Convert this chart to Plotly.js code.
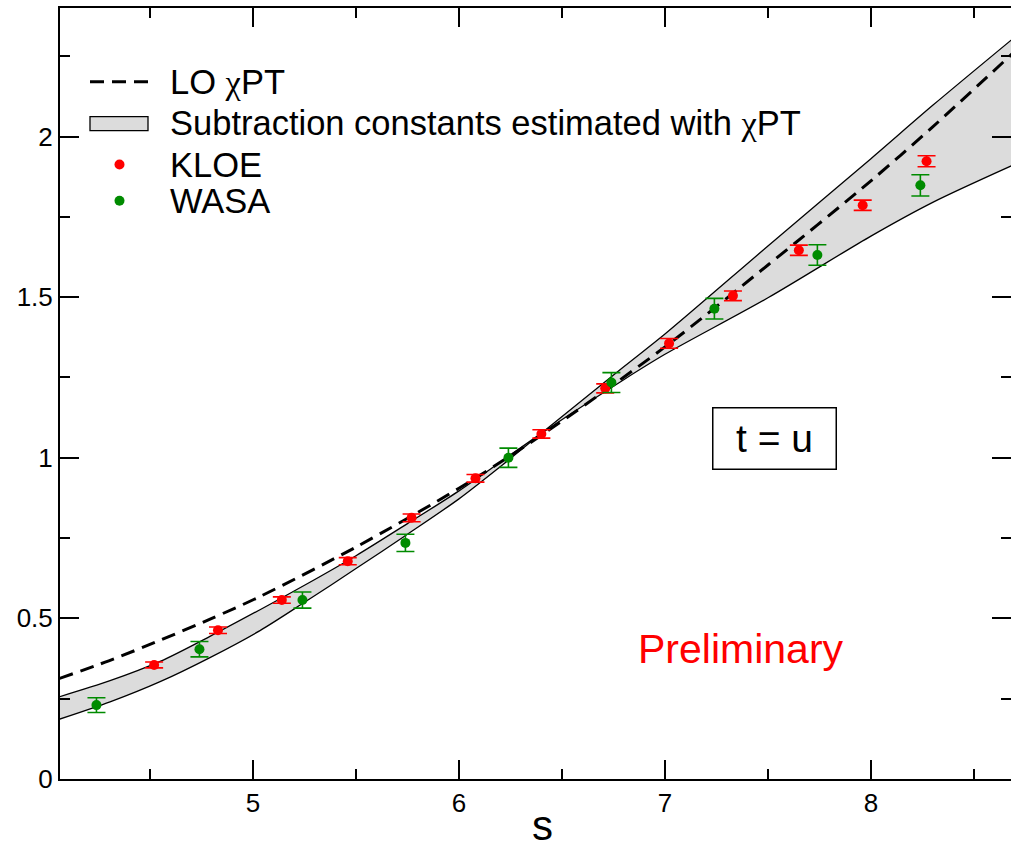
<!DOCTYPE html>
<html>
<head>
<meta charset="utf-8">
<script src="https://cdn.plot.ly/plotly-3.0.1.min.js"></script>
<style>
  html, body { margin: 0; padding: 0; background: #ffffff; }
  #chart { width: 1011px; height: 849px; }
</style>
</head>
<body>
<div id="chart"></div>
<script>
// ---- data ----
// the two edges of the band cross near s = 6.4
const bandS  = [4.06, 4.306, 4.549, 4.791, 5.034, 5.25, 5.5, 5.75, 6.0, 6.2, 6.4, 6.8, 7.0, 7.5, 8.0, 8.3, 8.69];
const bandA  = [0.186, 0.240, 0.303, 0.378, 0.462, 0.550, 0.655, 0.762, 0.872, 0.972, 1.076, 1.283, 1.385, 1.659, 1.931, 2.097, 2.305];
const bandB  = [0.256, 0.306, 0.366, 0.444, 0.527, 0.603, 0.695, 0.795, 0.897, 0.986, 1.076, 1.243, 1.322, 1.498, 1.690, 1.795, 1.911];

const loS = [4.06, 4.3, 4.55, 4.8, 5.034, 5.5, 6.0, 6.4, 7.0, 7.5, 8.0, 8.3, 8.69];
const loY = [0.313, 0.368, 0.432, 0.500, 0.568, 0.722, 0.905, 1.070, 1.345, 1.600, 1.862, 2.030, 2.260];

const kloeS   = [4.52, 4.83, 5.14, 5.46, 5.77, 6.08, 6.40, 6.71, 7.02, 7.33, 7.65, 7.96, 8.27];
const kloeY   = [0.355, 0.463, 0.557, 0.678, 0.813, 0.936, 1.074, 1.216, 1.356, 1.504, 1.646, 1.786, 1.923];
const kloeErr = [0.009, 0.010, 0.010, 0.011, 0.012, 0.012, 0.013, 0.014, 0.015, 0.015, 0.016, 0.016, 0.017];

const wasaS   = [4.24, 4.74, 5.24, 5.74, 6.24, 6.74, 7.24, 7.74, 8.24];
const wasaY   = [0.230, 0.404, 0.557, 0.735, 1.000, 1.234, 1.464, 1.631, 1.848];
const wasaErr = [0.023, 0.024, 0.025, 0.027, 0.030, 0.031, 0.032, 0.032, 0.033];

const legendLabels = ["LO <span style=\"font-family:'Liberation Serif'\">χ</span>PT",
                      "Subtraction constants estimated with <span style=\"font-family:'Liberation Serif'\">χ</span>PT",
                      "KLOE", "WASA"];
const xTitle = "s";
const boxLabel = "t = u";
const stamp = "Preliminary";

// ---- styles ----
const FONT = "Liberation Sans, Arial, sans-serif";
const RED = "#ff0000";
const GREEN = "#008b00";
const GREY = "#dcdcdc";

const traces = [
  { x: bandS, y: bandA, mode: "lines", line: {color: "#000", width: 1.3, shape: "spline", smoothing: 0.8},
    showlegend: false, hoverinfo: "skip" },
  { x: bandS, y: bandB, mode: "lines", fill: "tonexty", fillcolor: GREY,
    line: {color: "#000", width: 1.3, shape: "spline", smoothing: 0.8}, showlegend: false, hoverinfo: "skip" },
  { x: loS, y: loY, mode: "lines", line: {color: "#000", width: 3, dash: "14px,8px", shape: "spline", smoothing: 0.8},
    showlegend: false },
  { x: kloeS, y: kloeY, mode: "markers", marker: {color: RED, size: 10},
    error_y: {type: "data", array: kloeErr, visible: true, color: RED, thickness: 1.6, width: 9},
    showlegend: false },
  { x: wasaS, y: wasaY, mode: "markers", marker: {color: GREEN, size: 10},
    error_y: {type: "data", array: wasaErr, visible: true, color: GREEN, thickness: 1.6, width: 9},
    showlegend: false }
];

// pixel helpers for paper coords (plot area 60..1011 x 8..779)
const PL = 60, PR = 1011, PT = 8, PB = 779;
const px = v => (v - PL) / (PR - PL);
const py = v => (PB - v) / (PB - PT);

const legendRows = [81.5, 123, 165, 201];
const textX = px(168);

const annotations = legendLabels.map((t, i) => ({
  xref: "paper", yref: "paper", x: textX, y: py(legendRows[i]), xanchor: "left", yanchor: "middle",
  text: t, showarrow: false, font: {family: FONT, size: 34.5, color: "#000"}
}));
annotations.push({
  xref: "paper", yref: "paper", x: px(774.7), y: py(438), xanchor: "center", yanchor: "middle",
  text: boxLabel, showarrow: false, font: {family: FONT, size: 39, color: "#000"},
  bordercolor: "#000", borderwidth: 1.5, width: 120, height: 58, bgcolor: "#fff"
});
annotations.push({
  xref: "paper", yref: "paper", x: px(741), y: py(649), xanchor: "center", yanchor: "middle",
  text: stamp, showarrow: false, font: {family: FONT, size: 41, color: RED}
});
annotations.push({
  xref: "paper", yref: "paper", x: px(542), y: py(825), xanchor: "center", yanchor: "middle",
  text: xTitle, showarrow: false, font: {family: FONT, size: 42, color: "#000"}
});

const shapes = [
  {type: "line", xref: "paper", yref: "paper", x0: px(90), x1: px(148), y0: py(81.7), y1: py(81.7),
   line: {color: "#000", width: 3, dash: "14px,8px"}},
  {type: "rect", xref: "paper", yref: "paper", x0: px(90), x1: px(148), y0: py(130.7), y1: py(116.7),
   fillcolor: GREY, line: {color: "#000", width: 1.3}},
  {type: "circle", xref: "paper", yref: "paper", x0: px(114.5), x1: px(124.5), y0: py(169.5), y1: py(159.5),
   fillcolor: RED, line: {width: 0}},
  {type: "circle", xref: "paper", yref: "paper", x0: px(114.5), x1: px(124.5), y0: py(205.7), y1: py(195.7),
   fillcolor: GREEN, line: {width: 0}}
];

const axisCommon = {
  showgrid: false, zeroline: false, showline: true, linecolor: "#000", linewidth: 2,
  ticks: "inside", ticklen: 19, tickwidth: 2, tickcolor: "#000", mirror: "ticks",
  tickfont: {family: FONT, size: 26, color: "#000"}
};

const layout = {
  width: 1011, height: 849,
  margin: {l: PL, r: 1011 - PR, t: PT, b: 849 - PB, pad: 0},
  paper_bgcolor: "#fff", plot_bgcolor: "#fff",
  showlegend: false,
  xaxis: Object.assign({}, axisCommon, {
    range: [4.063, 8.68], dtick: 1, tick0: 0, ticklabelstandoff: 0,
    minor: {dtick: 0.5, tick0: 0, ticks: "inside", ticklen: 10, tickwidth: 2, tickcolor: "#000"}
  }),
  yaxis: Object.assign({}, axisCommon, {
    range: [0, 2.4], dtick: 0.5, tick0: 0, ticklabelstandoff: 0,
    minor: {dtick: 0.25, tick0: 0, ticks: "inside", ticklen: 10, tickwidth: 2, tickcolor: "#000"}
  }),
  annotations: annotations,
  shapes: shapes
};

Plotly.newPlot("chart", traces, layout, {displayModeBar: false, staticPlot: true});
</script>
</body>
</html>
